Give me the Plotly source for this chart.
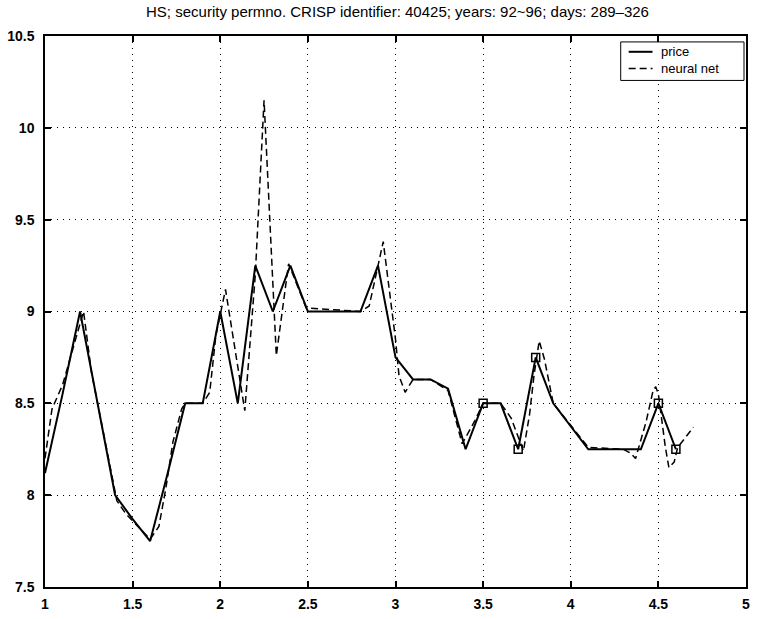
import plotly.graph_objects as go

# ---- data ----
price_x = [1.0, 1.1, 1.2, 1.3, 1.4, 1.5, 1.6, 1.7, 1.8, 1.9, 2.0, 2.1, 2.2, 2.3, 2.4, 2.5,
           2.6, 2.7, 2.8, 2.9, 3.0, 3.1, 3.2, 3.3, 3.4, 3.5, 3.6, 3.7, 3.8, 3.9, 4.0,
           4.1, 4.2, 4.3, 4.4, 4.5, 4.6]
price_y = [8.12, 8.55, 9.0, 8.5, 8.0, 7.87, 7.75, 8.12, 8.5, 8.5, 9.0, 8.5, 9.25, 9.0, 9.25, 9.0,
           9.0, 9.0, 9.0, 9.25, 8.75, 8.63, 8.63, 8.58, 8.25, 8.5, 8.5, 8.25, 8.75, 8.5, 8.375,
           8.25, 8.25, 8.25, 8.25, 8.5, 8.25]

nn_x = [1.0, 1.04, 1.1, 1.22, 1.265, 1.3, 1.41, 1.46, 1.6, 1.65, 1.69, 1.73, 1.78, 1.8,
        1.9, 1.94, 1.975, 2.03, 2.14, 2.2, 2.25, 2.32, 2.39, 2.49, 2.8, 2.85, 2.93, 3.0,
        3.02, 3.055, 3.08, 3.1, 3.2, 3.3, 3.38, 3.45, 3.5, 3.6, 3.66, 3.73, 3.765, 3.79,
        3.82, 3.85, 3.9, 4.0, 4.1, 4.3, 4.34, 4.37, 4.43, 4.47, 4.485, 4.5, 4.54, 4.56,
        4.59, 4.61, 4.7]
nn_y = [8.2, 8.47, 8.6, 9.0, 8.67, 8.5, 7.97, 7.9, 7.76, 7.83, 8.04, 8.29, 8.47, 8.5,
        8.5, 8.56, 8.87, 9.12, 8.46, 9.2, 10.15, 8.76, 9.26, 9.02, 9.0, 9.03, 9.38, 8.85,
        8.65, 8.56, 8.6, 8.63, 8.63, 8.57, 8.28, 8.4, 8.5, 8.5, 8.42, 8.24, 8.44, 8.65,
        8.84, 8.74, 8.5, 8.38, 8.26, 8.25, 8.23, 8.2, 8.4, 8.57, 8.59, 8.55, 8.26, 8.15,
        8.18, 8.26, 8.37]

mark_x = [3.5, 3.7, 3.8, 4.5, 4.6]
mark_y = [8.5, 8.25, 8.75, 8.5, 8.25]

series_names = ["price", "neural net"]
title_text = "HS; security permno. CRISP identifier: 40425; years: 92~96; days: 289\u2013326"
x_ticks = [1, 1.5, 2, 2.5, 3, 3.5, 4, 4.5, 5]
y_ticks = [7.5, 8, 8.5, 9, 9.5, 10, 10.5]

W, H = 757, 619
ML, MR, MT, MB = 45, 7, 36, 25
PW, PH = W - ML - MR, H - MT - MB


def px(xp):
    return (xp - ML) / PW


def py(yp):
    return 1 - (yp - MT) / PH


fig = go.Figure()
fig.add_trace(go.Scatter(x=price_x, y=price_y, mode="lines", name=series_names[0],
                         showlegend=False, line=dict(color="black", width=2)))
fig.add_trace(go.Scatter(x=nn_x, y=nn_y, mode="lines", name=series_names[1],
                         showlegend=False, line=dict(color="black", width=1.5, dash="7px,4px")))
fig.add_trace(go.Scatter(x=mark_x, y=mark_y, mode="markers", showlegend=False,
                         marker=dict(symbol="square-open", size=8, color="black",
                                     line=dict(width=1.5, color="black"))))

axis_common = dict(
    showline=True, linecolor="black", linewidth=1.5, mirror="ticks",
    ticks="inside", ticklen=6, tickcolor="black", tickwidth=1.5,
    showgrid=True, gridcolor="black", gridwidth=1, griddash="1px,5px",
    zeroline=False,
    tickfont=dict(family="Liberation Sans, Arial", size=14, color="black", weight="bold"),
)

# legend box (drawn in paper coordinates, MATLAB style)
lg_x0, lg_x1, lg_y0, lg_y1 = 624, 748, 42, 81
row_y = [52, 69]
shapes = [dict(type="rect", xref="paper", yref="paper",
               x0=px(lg_x0), x1=px(lg_x1), y0=py(lg_y1), y1=py(lg_y0),
               line=dict(color="black", width=1), fillcolor="white", layer="above")]
dashes = ["solid", "7px,4px"]
widths = [2, 1.5]
annotations = []
for i, name in enumerate(series_names):
    shapes.append(dict(type="line", xref="paper", yref="paper",
                       x0=px(632), x1=px(656), y0=py(row_y[i]), y1=py(row_y[i]),
                       line=dict(color="black", width=widths[i], dash=dashes[i]), layer="above"))
    annotations.append(dict(text=name, xref="paper", yref="paper", x=px(663), y=py(row_y[i]),
                            xanchor="left", yanchor="middle", showarrow=False,
                            font=dict(family="Liberation Sans, Arial", size=13, color="black")))

fig.update_layout(
    width=W, height=H,
    margin=dict(l=ML, r=MR, t=MT, b=MB),
    paper_bgcolor="white", plot_bgcolor="white",
    title=dict(text=title_text, x=(ML + PW / 2) / W, xanchor="center", y=1 - 12 / H,
               yanchor="middle", yref="container",
               font=dict(family="Liberation Sans, Arial", size=15, color="black")),
    xaxis=dict(range=[1, 5], tickvals=x_ticks, ticktext=[str(t) for t in x_ticks],
               ticklabelstandoff=3, **axis_common),
    yaxis=dict(range=[7.5, 10.5], tickvals=y_ticks, ticktext=[str(t) for t in y_ticks],
               ticklabelstandoff=6, **axis_common),
    shapes=shapes,
    annotations=annotations,
    showlegend=False,
)

fig.write_html("out.html")
